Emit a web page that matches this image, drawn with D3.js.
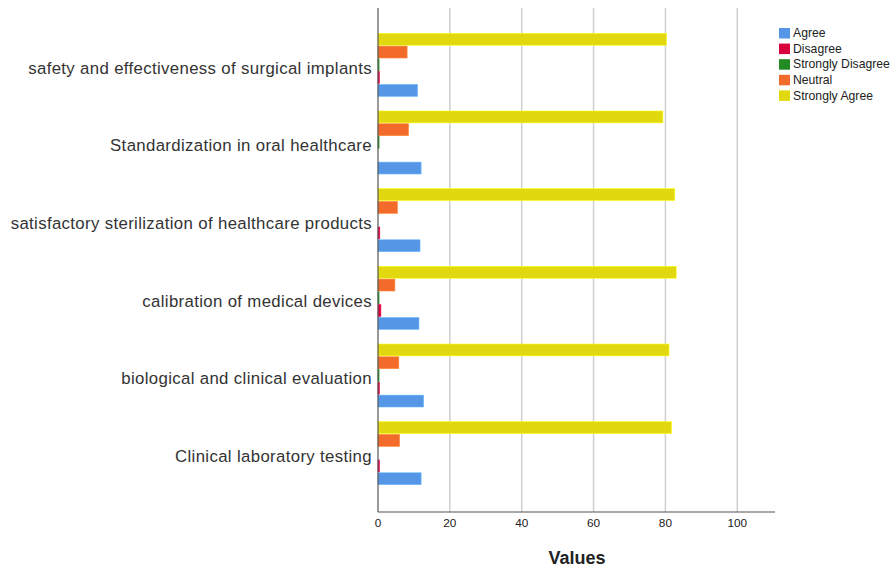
<!DOCTYPE html>
<html><head><meta charset="utf-8">
<script src="https://cdn.jsdelivr.net/npm/d3@7/dist/d3.min.js"></script>
<style>body{margin:0;background:#fff;} svg{display:block;font-family:"Liberation Sans",Arial,sans-serif;}</style>
</head><body><svg id="chart" width="893" height="570"></svg>
<script>
const categories = ["safety and effectiveness of surgical implants","Standardization in oral healthcare","satisfactory sterilization of healthcare products","calibration of medical devices","biological and clinical evaluation","Clinical laboratory testing"];
const seriesNames = ["Strongly Agree","Neutral","Strongly Disagree","Disagree","Agree"];
const stronglyAgree = [80.3, 79.3, 82.6, 83.0, 81.0, 81.7];
const neutral = [8.1, 8.5, 5.4, 4.7, 5.8, 6.0];
const stronglyDisagree = [0.3, 0.3, 0, 0.3, 0.3, 0];
const disagree = [0.4, 0, 0.5, 0.8, 0.4, 0.4];
const agree = [11.0, 12.0, 11.7, 11.4, 12.7, 12.0];
const legendOrder = ["Agree","Disagree","Strongly Disagree","Neutral","Strongly Agree"];
const xTicks = [0,20,40,60,80,100];
const colors = {"Agree":"#5596e6","Disagree":"#d8003c","Strongly Disagree":"#228b22","Neutral":"#f26b2a","Strongly Agree":"#e1d80f"};
const valuesBySeries = {"Strongly Agree":stronglyAgree,"Neutral":neutral,"Strongly Disagree":stronglyDisagree,"Disagree":disagree,"Agree":agree};

(function(){
const svg = d3.select("#chart");
const pL = 378, pR = 775, pT = 8, pB = 512;
const x = d3.scaleLinear().domain([0,110.5]).range([pL,pR]);
const y = d3.scaleBand().domain(categories).range([26,492]);
const step = y.step();
const groupH = 63;
const y1 = d3.scaleBand().domain(seriesNames).range([(step-groupH)/2,(step+groupH)/2]).paddingInner(0.07);

// gridlines
svg.append("g").selectAll("line").data(xTicks.filter(d=>d>0)).join("line")
  .attr("x1",d=>x(d)).attr("x2",d=>x(d)).attr("y1",pT).attr("y2",pB)
  .attr("stroke","#cfcfcf").attr("stroke-width",1.5);

// bars
const g = svg.append("g");
categories.forEach((c,i)=>{
  seriesNames.forEach(s=>{
    const v = valuesBySeries[s][i];
    if(v<=0) return;
    g.append("rect").attr("x",x(0)).attr("y",y(c)+y1(s))
      .attr("width",Math.max(x(v)-x(0),0)).attr("height",y1.bandwidth())
      .attr("fill",colors[s]).attr("stroke",d3.color(colors[s]).brighter(0.6)).attr("stroke-width",0.6);
  });
});

// axes lines
svg.append("line").attr("x1",pL).attr("x2",pL).attr("y1",pT).attr("y2",pB).attr("stroke","#555").attr("stroke-width",1.2);
svg.append("line").attr("x1",pL).attr("x2",pR).attr("y1",pB).attr("y2",pB).attr("stroke","#555").attr("stroke-width",1.2);

// x tick labels
svg.append("g").selectAll("text").data(xTicks).join("text")
  .attr("x",d=>x(d)).attr("y",527).attr("text-anchor","middle")
  .attr("font-size",11.8).attr("fill","#222").text(d=>d);

// category labels
svg.append("g").selectAll("text").data(categories).join("text")
  .attr("x",372).attr("y",d=>y(d)+step/2+4.5).attr("text-anchor","end")
  .attr("dominant-baseline","middle").attr("font-size",16.8).attr("letter-spacing",0.35)
  .attr("fill","#333").text(d=>d);

// axis title
svg.append("text").attr("x",577).attr("y",564).attr("text-anchor","middle")
  .attr("font-size",18).attr("font-weight","bold").attr("fill","#222").text("Values");

// legend
const lg = svg.append("g").attr("transform","translate(779,28)");
legendOrder.forEach((s,i)=>{
  lg.append("rect").attr("x",0).attr("y",i*15.6).attr("width",11).attr("height",10.5).attr("fill",colors[s]);
  lg.append("text").attr("x",14).attr("y",i*15.6+6).attr("dominant-baseline","middle")
    .attr("font-size",12.2).attr("fill","#222").text(s);
});
})();
</script></body></html>
